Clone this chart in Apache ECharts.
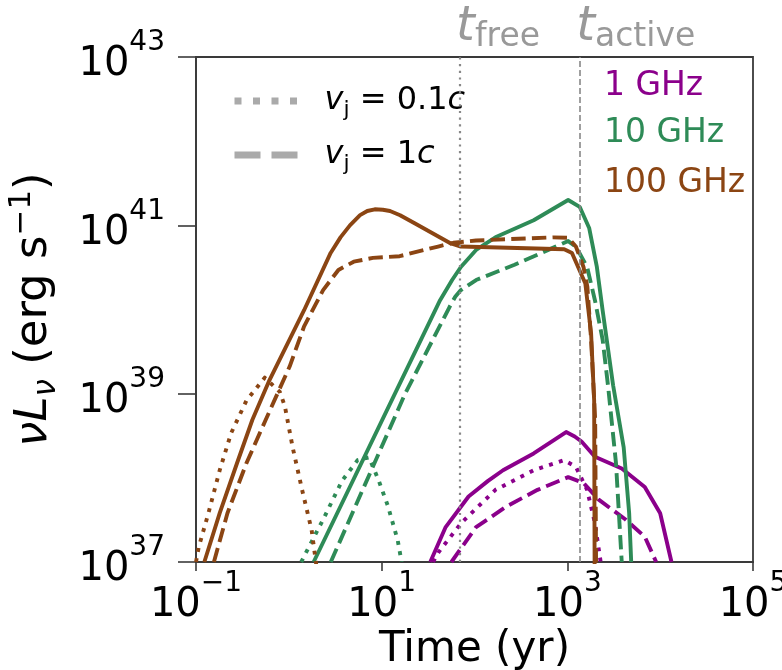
<!DOCTYPE html>
<html>
<head>
<meta charset="utf-8">
<script src="https://cdn.jsdelivr.net/npm/echarts@6/dist/echarts.min.js"></script>
<style>
  html, body { margin: 0; padding: 0; background: #fff; }
  #chart { width: 782px; height: 670px; }
</style>
</head>
<body>
<div id="chart"></div>
<script>
// Light curves: time (yr) vs nu*L_nu (erg/s)
const freqLabels = ['1 GHz', '10 GHz', '100 GHz'];

// 1 GHz
const ghz1Solid = [[33.4,1.0e37],[48.9,2.6e37],[86.3,6.0e37],[140,9.2e37],[203,1.23e38],[434,1.95e38],[970,3.5e38],[1200,3.1e38],[1422,2.7e38],[1982,1.78e38],[3855,1.29e38],[6823,7.8e37],[10000,3.8e37],[13240,1.0e37]];
const ghz1Slow  = [[35.8,1.0e37],[40.6,1.29e37],[71.8,2.9e37],[168,7.2e37],[434,1.23e38],[925,1.62e38],[1236,1.35e38],[1633,7.2e37],[1982,2.9e37],[2286,1.0e37]];
const ghz1Fast  = [[56.4,1.0e37],[104,2.6e37],[223,4.6e37],[478,7.2e37],[1021,1.02e38],[1493,8.7e37],[2178,5.5e37],[4236,3.2e37],[6823,2.0e37],[9057,1.0e37]];

// 10 GHz
const ghz10Solid = [[1.85,1.0e37],[13.9,1.0e39],[42.6,1.29e40],[57.4,2.24e40],[71.3,3.2e40],[104,5.1e40],[168,7.2e40],[434,1.15e41],[1021,2.0e41],[1358,1.66e41],[1718,9.3e40],[2080,3.2e40],[2399,9.8e39],[2754,3.3e39],[3112,1.26e39],[4046,2.3e38],[4634,3.8e37],[4875,1.0e37]];
const ghz10Slow  = [[1.36,1.0e37],[1.53,1.29e37],[2.34,3.2e37],[3.76,9.3e37],[5.50,1.62e38],[7.3,1.75e38],[9.29,9.3e37],[11.7,4.6e37],[14.9,1.8e37],[16.4,1.0e37]];
const ghz10Fast  = [[2.83,1.0e37],[17.9,1.0e39],[53.8,1.07e40],[62,1.42e40],[71.3,1.7e40],[104,2.24e40],[270,3.4e40],[698,5.4e40],[1021,6.5e40],[1236,5.6e40],[1633,3.2e40],[1982,1.29e40],[2399,4.4e39],[2754,1.2e39],[3342,1.5e38],[3855,1.0e37]];

// 100 GHz
const ghz100Solid = [[0.123,1.0e37],[0.180,3.8e37],[0.277,1.5e38],[0.405,4.9e38],[0.619,1.45e39],[1.46,9.8e39],[2.82,4.7e40],[3.6,7.2e40],[4.55,1.0e41],[5.85,1.32e41],[7.0,1.48e41],[8.43,1.55e41],[10.3,1.53e41],[12.3,1.48e41],[15.8,1.32e41],[22.9,1.05e41],[53.8,6.2e40],[71.3,5.6e40],[925,5.2e40],[1122,4.7e40],[1563,2.04e40],[1803,5.2e39],[1945,8.3e38],[1968,8e36]];
const ghz100Slow  = [[0.1,1.0e37],[0.107,1.5e37],[0.136,3.8e37],[0.180,1.23e38],[0.239,3.4e38],[0.350,8.3e38],[0.490,1.32e39],[0.55,1.55e39],[0.80,1.05e39],[0.906,7.1e38],[1.10,2.3e38],[1.39,7.2e37],[1.76,2.4e37],[2.01,8e36]];
const ghz100Fast  = [[0.156,1.0e37],[0.218,3.8e37],[0.350,1.5e38],[0.564,4.9e38],[0.783,1.1e39],[1.02,2.1e39],[1.46,6.3e39],[2.34,1.7e40],[3.42,2.95e40],[5.0,3.7e40],[8.04,4.1e40],[15.6,4.3e40],[40.5,5.6e40],[59.2,6.2e40],[104,6.6e40],[698,7.2e40],[1021,7.1e40],[1236,5.6e40],[1493,3.2e40],[1644,1.86e40],[1803,4.4e39],[1995,4.9e38],[2042,8e36]];

// Characteristic times (yr)
const tFree = 70;
const tActive = 1375;

// ---- styles ----
const FONT = 'DejaVu Sans';
const C_PURPLE = '#8b008b';
const C_GREEN = '#2e8b57';
const C_BROWN = '#8b4513';
const C_GREY = '#aaaaaa';
const C_EPOCH = '#999999';
const LW = 3.9;
const DOT = [LW, LW * 1.65];
const DASH = [LW * 3.7, LW * 1.6];

function curve(name, data, color, type) {
  return {
    name: name,
    type: 'line',
    data: data,
    symbol: 'none',
    clip: true,
    silent: true,
    lineStyle: { color: color, width: LW, type: type, cap: 'butt', join: 'round' }
  };
}

function sciLabel(v) {
  const e = Math.round(Math.log10(v));
  const s = e < 0 ? '\u2212' + Math.abs(e) : String(e);
  return '{b|10}{p|' + s + '}';
}
const tickRich = {
  b: { fontFamily: FONT, fontSize: 40, color: '#000', lineHeight: 56, verticalAlign: 'bottom' },
  p: { fontFamily: FONT, fontSize: 28, color: '#000', lineHeight: 28, verticalAlign: 'top' }
};

const chart = echarts.init(document.getElementById('chart'), null, { renderer: 'canvas' });

const option = {
  animation: false,
  backgroundColor: '#fff',
  grid: {
    left: 196, right: 29, top: 57, bottom: 108,
    containLabel: false, outerBoundsMode: 'none',
    show: true, borderColor: '#3a3a3a', borderWidth: 1.8, backgroundColor: 'transparent'
  },
  legend: {
    orient: 'vertical',
    left: 226, top: 80,
    itemWidth: 66, itemHeight: 40, itemGap: 18,
    selectedMode: false,
    data: [
      { name: 'vSlow', itemStyle: { opacity: 0 },
        lineStyle: { color: C_GREY, width: 7, type: [7, 11.5], cap: 'butt', opacity: 1 } },
      { name: 'vFast', itemStyle: { opacity: 0 },
        lineStyle: { color: C_GREY, width: 7, type: [26, 11], cap: 'butt', opacity: 1 } }
    ],
    formatter: function (name) {
      return name === 'vSlow' ? '{i|v}{s|j}{n| = 0.1}{i|c}' : '{i|v}{s|j}{n| = 1}{i|c}';
    },
    textStyle: {
      padding: [0, 0, 0, 19],
      rich: {
        i: { fontFamily: FONT, fontStyle: 'italic', fontSize: 32, color: '#000', lineHeight: 40 },
        s: { fontFamily: FONT, fontSize: 22, color: '#000', verticalAlign: 'bottom', lineHeight: 34 },
        n: { fontFamily: FONT, fontSize: 32, color: '#000', lineHeight: 40 }
      }
    }
  },
  xAxis: {
    type: 'log', logBase: 10, min: 0.1, max: 1e5, interval: 2,
    name: 'Time (yr)', nameLocation: 'middle', nameGap: 63, nameMoveOverlap: false,
    nameTextStyle: { fontFamily: FONT, fontSize: 42, color: '#000', verticalAlign: 'top', lineHeight: 50 },
    axisLine: { show: true, lineStyle: { color: '#3a3a3a', width: 1.8 } },
    axisTick: { show: true, length: 9, lineStyle: { color: '#3a3a3a', width: 1.6 } },
    minorTick: { show: false },
    splitLine: { show: false },
    axisLabel: { margin: 8, formatter: sciLabel, rich: tickRich }
  },
  yAxis: {
    type: 'log', logBase: 10, min: 1e37, max: 1e43, interval: 2,
    name: '{i|\u03bdL}{s|\u03bd}{n| (erg s}{p|\u22121}{n|)}',
    nameLocation: 'middle', nameGap: 134, nameRotate: 90, nameMoveOverlap: false,
    nameTextStyle: {
      rich: {
        i: { fontFamily: FONT, fontStyle: 'italic', fontSize: 45, color: '#000', lineHeight: 56 },
        s: { fontFamily: FONT, fontStyle: 'italic', fontSize: 31, color: '#000', verticalAlign: 'bottom', lineHeight: 48 },
        n: { fontFamily: FONT, fontSize: 45, color: '#000', lineHeight: 56 },
        p: { fontFamily: FONT, fontSize: 31, color: '#000', verticalAlign: 'top', lineHeight: 38 }
      }
    },
    axisLine: { show: true, lineStyle: { color: '#3a3a3a', width: 1.8 } },
    axisTick: { show: true, length: 18, lineStyle: { color: '#3a3a3a', width: 1.6 } },
    minorTick: { show: false },
    splitLine: { show: false },
    axisLabel: { margin: 31, formatter: sciLabel, rich: tickRich }
  },
  series: [
    // legend-only entries for jet speed line styles
    { name: 'vSlow', type: 'line', data: [], symbol: 'none',
      lineStyle: { color: C_GREY, width: 7, type: [7, 11.5], cap: 'butt' }, itemStyle: { color: C_GREY } },
    { name: 'vFast', type: 'line', data: [], symbol: 'none',
      lineStyle: { color: C_GREY, width: 7, type: [26, 11], cap: 'butt' }, itemStyle: { color: C_GREY } },
    // characteristic time markers
    { name: 'epochs', type: 'line', data: [], symbol: 'none', silent: true,
      markLine: {
        silent: true, symbol: 'none', label: { show: false }, animation: false,
        data: [
          { xAxis: tFree, lineStyle: { color: '#888', width: 2.2, type: [2.2, 4.5], cap: 'butt' } },
          { xAxis: tActive, lineStyle: { color: '#888', width: 1.6, type: [6, 3], cap: 'butt' } }
        ]
      }
    },
    curve('1 GHz solid', ghz1Solid, C_PURPLE, 'solid'),
    curve('1 GHz 0.1c', ghz1Slow, C_PURPLE, DOT),
    curve('1 GHz 1c', ghz1Fast, C_PURPLE, DASH),
    curve('10 GHz solid', ghz10Solid, C_GREEN, 'solid'),
    curve('10 GHz 0.1c', ghz10Slow, C_GREEN, DOT),
    curve('10 GHz 1c', ghz10Fast, C_GREEN, DASH),
    curve('100 GHz solid', ghz100Solid, C_BROWN, 'solid'),
    curve('100 GHz 0.1c', ghz100Slow, C_BROWN, DOT),
    curve('100 GHz 1c', ghz100Fast, C_BROWN, DASH)
  ]
};
chart.setOption(option);

// Annotations: epoch names above the plot and band names at upper right
const xFree = chart.convertToPixel({ xAxisIndex: 0 }, tFree);
const xActive = chart.convertToPixel({ xAxisIndex: 0 }, tActive);
const tRich = {
  t: { fontFamily: FONT, fontStyle: 'italic', fontSize: 48, fill: C_EPOCH, lineHeight: 52 },
  s: { fontFamily: FONT, fontSize: 33, fill: C_EPOCH, verticalAlign: 'bottom', lineHeight: 44 }
};
const bandColors = [C_PURPLE, C_GREEN, C_BROWN];
const bandY = [83, 130, 180];
chart.setOption({
  graphic: [
    { type: 'text', left: xFree - 4, top: 4, silent: true,
      style: { text: '{t|t}{s|free}', rich: tRich } },
    { type: 'text', left: xActive - 4, top: 4, silent: true,
      style: { text: '{t|t}{s|active}', rich: tRich } }
  ].concat(freqLabels.map(function (lab, i) {
    return { type: 'text', left: 604, top: bandY[i] - 13, silent: true,
      style: { text: lab, fontFamily: FONT, fontSize: 33, fill: bandColors[i] } };
  }))
});
</script>
</body>
</html>
